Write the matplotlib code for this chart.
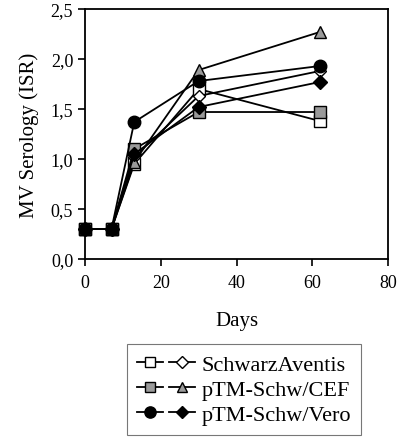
import matplotlib
matplotlib.use("Agg")
import matplotlib.pyplot as plt
from matplotlib.legend_handler import HandlerTuple
from matplotlib.ticker import FuncFormatter

# ── data ──────────────────────────────────────────────────────────────────────
days = [0, 7, 13, 30, 62]

schwarz     = [0.30, 0.30, 0.95, 1.70, 1.38]
aventis     = [0.30, 0.30, 1.02, 1.63, 1.88]
cef_square  = [0.30, 0.30, 1.10, 1.47, 1.47]
cef_tri     = [0.30, 0.30, 0.97, 1.89, 2.27]
vero_circle = [0.30, 0.30, 1.37, 1.78, 1.93]
vero_diam   = [0.30, 0.30, 1.05, 1.52, 1.77]

legend_labels = ["SchwarzAventis", "pTM-Schw/CEF", "pTM-Schw/Vero"]

GRAY = "#9a9a9a"

plt.rcParams["font.family"] = ["Liberation Serif", "DejaVu Serif"]

fig = plt.figure(figsize=(4.0, 4.39), dpi=100)
ax = fig.add_axes([0.2125, 0.4077, 0.7575, 0.5695])

styles = [
    (schwarz,     dict(marker="s", mfc="white", mec="black", ms=8)),
    (aventis,     dict(marker="D", mfc="white", mec="black", ms=6.5)),
    (cef_square,  dict(marker="s", mfc=GRAY, mec="black", ms=8)),
    (cef_tri,     dict(marker="^", mfc=GRAY, mec="black", ms=8)),
    (vero_circle, dict(marker="o", mfc="black", mec="black", ms=9)),
    (vero_diam,   dict(marker="D", mfc="black", mec="black", ms=7)),
]

handles = []
for vals, st in styles:
    ln, = ax.plot(days, vals, color="black", lw=1.3, mew=1.0,
                  clip_on=False, **st)
    handles.append(ln)

ax.set_xlim(0, 80)
ax.set_ylim(0, 2.5)
ax.set_xticks([0, 20, 40, 60, 80])
ax.set_yticks([0, 0.5, 1.0, 1.5, 2.0, 2.5])
ax.yaxis.set_major_formatter(FuncFormatter(lambda v, p: f"{v:.1f}".replace(".", ",")))
ax.tick_params(direction="out", length=5, width=1.2, labelsize=13, colors="black")
ax.tick_params(axis="x", pad=6)
for sp in ax.spines.values():
    sp.set_linewidth(1.3)

ax.set_xlabel("Days", fontsize=15, labelpad=14)
ax.set_ylabel("MV Serology (ISR)", fontsize=15, labelpad=8)

# legend: two marker handles per row
pairs = [(handles[0], handles[1]), (handles[2], handles[3]), (handles[4], handles[5])]
leg = fig.legend(pairs, legend_labels, loc="upper left",
                 bbox_to_anchor=(0.318, 0.213),
                 handler_map={tuple: HandlerTuple(ndivide=None, pad=0.3)},
                 handlelength=2.6, fontsize=16, frameon=True, fancybox=False,
                 borderpad=0.45, labelspacing=0.2, handletextpad=0.3,
                 borderaxespad=0, markerscale=0.9)
leg.get_frame().set_edgecolor("#555555")
leg.get_frame().set_linewidth(0.8)

fig.savefig("out.png", dpi=100)
